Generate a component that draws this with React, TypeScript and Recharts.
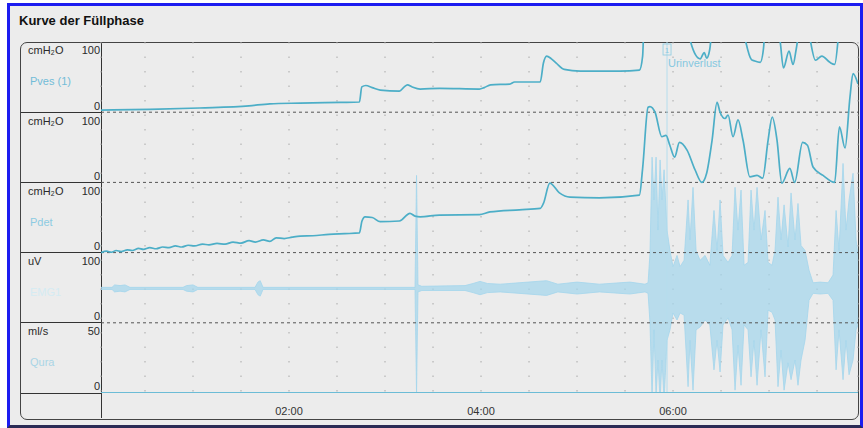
import React from "react";
import { ComposedChart, Line, Area, XAxis, YAxis, CartesianGrid, ReferenceLine } from "recharts";

// time in seconds, values in channel units
const pvesTrace: number[][] = [
  [2.5, 3], [33, 4], [64, 6], [95, 9], [108, 12], [127, 13], [152, 14], [164, 14.5],
  [165.5, 36], [168, 38], [172, 35], [177, 31.5], [189, 30], [192, 36], [194, 39], [197, 36],
  [202, 33], [214, 34], [239, 33], [242, 35], [246, 39], [258, 40], [261, 43], [277, 43],
  [279, 70], [281, 80], [284, 76], [287, 70], [292, 61], [302, 58.5], [314, 58.5], [327, 58.5],
  [339, 60], [341, 80], [342, 130], [368, 130], [371, 100], [374, 82], [377, 76], [379.5, 85],
  [381, 77], [383, 90], [385, 130], [403, 130], [405.5, 100], [409, 75], [411, 73], [414.5, 71],
  [416.5, 90], [418, 130], [425, 130], [427, 100], [429, 63], [432.5, 87], [435, 68], [437, 90],
  [440, 130], [444, 130], [446, 100], [449, 74], [453, 80], [458, 71], [461, 68], [463, 100],
  [464, 130], [476, 130],
];

const pdetTrace: number[][] = [
  [2.5, 0], [6, 2], [9, 0.5], [12, 3], [15, 1.5], [19, 4], [22, 3], [26, 6], [29, 4.5], [33, 7],
  [37, 5.5], [41, 8], [45, 7], [49, 9.5], [53, 8], [57, 10.5], [61, 9.5], [66, 12], [70, 11],
  [75, 13], [80, 12], [85, 15], [90, 13.5], [95, 17], [99, 15], [104, 18], [108, 16], [112, 21],
  [117, 20], [122, 22], [127, 23.5], [135, 24], [145, 26], [155, 27], [164, 28], [165.6, 45],
  [167.5, 51], [172, 50], [177, 44], [189, 45], [195.6, 56], [198.75, 52], [202, 51], [214, 53.5],
  [239, 54], [245.6, 58], [264, 61], [277, 63], [279, 70], [283, 99], [289, 85], [295.6, 79],
  [314, 78], [339, 82], [341, 120], [344.4, 207], [345.6, 208], [348.75, 200], [353, 165],
  [355.6, 167], [358, 153], [361, 136], [364, 157], [368.75, 146], [373.75, 118], [378, 100],
  [381, 113], [384.4, 160], [387.5, 214], [389.4, 200], [392.5, 191], [394.4, 196], [397.5, 165],
  [400.6, 189], [403.75, 160], [408, 108], [412.5, 110], [416, 106], [419.4, 160], [422, 193],
  [425, 160], [428, 99], [433, 120], [436, 100], [441, 157], [444, 153], [447.5, 122],
  [453.75, 110], [461, 100], [464, 179], [467.5, 149], [470.6, 222], [472.5, 255], [475.6, 240],
];

// EMG envelope: [time, low, high]
const emgEnvelope: number[][] = [
  [2.5, 47.5, 50.5], [9.4, 47.5, 50.5], [11, 44, 54], [14.4, 45, 53], [17.5, 44, 54], [20.6, 47.5, 50.5],
  [53.75, 47.5, 50.5], [56, 45, 53], [60, 44, 54], [63, 47.5, 50.5],
  [98.75, 47.5, 50.5], [100.6, 40, 58], [102, 38, 60], [103.75, 47.5, 50.5],
  [198.75, 47.5, 50.5], [199.7, -100, 210], [200.6, 44, 54], [203, 46, 52], [230, 46, 53],
  [235, 43, 56], [239.4, 40, 59], [244, 43, 56], [252, 44, 55], [281, 39, 60], [288, 44, 55],
  [300, 41, 58], [314, 44, 55], [333, 41, 58], [342.5, 44, 55],
  [344.4, 42, 57], [345.6, 0, 99], [346.9, -106, 236], [348.1, -10, 175], [349.4, -103, 236],
  [350.6, -53, 132], [351.9, -110, 232], [353.1, -53, 175], [354.4, -110, 218], [356.25, -25, 132],
  [358.1, -10, 103], [360, 14, 80], [362.5, 4, 96], [364.4, 14, 80], [366.9, 11, 89],
  [369.4, -91, 175], [370.6, -25, 118], [372.5, -96, 193], [374.4, -10, 103], [376.9, -6, 89],
  [380, 4, 96], [383, -3, 82], [385.6, -67, 160], [387.5, -25, 103], [389.4, -70, 175],
  [391.25, -3, 96], [394.4, 7, 86], [396.9, -10, 96], [398.75, -96, 193], [400.6, -32, 132],
  [402.5, -89, 189], [404.4, -3, 82], [406.9, -10, 86], [408.75, -77, 189], [410.6, -25, 132],
  [412.5, -89, 193], [415, -10, 118], [417.5, -77, 160], [419.4, 18, 86], [421.9, 15, 82],
  [423.75, 4, 103], [425.6, -91, 179], [427.5, -39, 118], [429.4, -96, 168], [431.9, -57, 108],
  [433.75, -81, 185], [436.25, -53, 118], [438.1, -89, 170], [440, -53, 110], [442.5, -25, 103],
  [445, 32, 75], [447.5, 42, 57], [451.9, 41, 58], [456.9, 42, 57], [460, 32, 68],
  [461.9, -67, 160], [463.75, -10, 103], [466.25, -81, 227], [468.1, -25, 132], [470, -74, 175],
  [472.5, -53, 213], [474.4, -10, 118], [475.6, -3, 96],
];

const quraTrace: number[][] = [[2.5, 0], [475.6, 0]];

const gridSeconds = [30, 60, 90, 120, 150, 180, 210, 240, 270, 300, 330, 360, 390, 420, 450];
const labelSeconds = [120, 240, 360];
const eventTime = 356.25;
const eventName = "Urinverlust";

const rowUnits = ["cmH₂O", "cmH₂O", "cmH₂O", "uV", "ml/s"];
const rowMax = ["100", "100", "100", "100", "50"];
const rowNames = ["Pves (1)", "", "Pdet", "EMG1", "Qura"];
const rowNameColors = ["#72bcd8", "#72bcd8", "#8ccbe2", "#d4ebf3", "#a9d5e6"];

const TEAL = "#4caec7";
const EMG = "#a3d6ec";
const ROW_TOP = [42, 112.5, 182.5, 252.5, 322.5, 393];

const fmt = (t: number) => `${String(Math.floor(t / 60)).padStart(2, "0")}:00`;

function EventLabel(props: any) {
  const vb = props.viewBox || {};
  const x = vb.x;
  const y = vb.y;
  return (
    <g>
      <rect x={x - 4} y={y + 2} width={8} height={11} fill="none" stroke="#8ccbe2" strokeWidth={0.8} />
      <text x={x} y={y + 11} fontSize={8} fill="#8ccbe2" textAnchor="middle">1</text>
      <text x={x + 1} y={y + 25} fontSize={11} fill="#86c8e0">{eventName}</text>
    </g>
  );
}

export default function App() {
  const pves = pvesTrace.map(([t, v]) => ({ t, v }));
  const pdet = pdetTrace.map(([t, v]) => ({ t, v }));
  const emg = emgEnvelope.map(([t, lo, hi]) => ({ t, r: [lo, hi] }));
  const qura = quraTrace.map(([t, v]) => ({ t, v }));

  const text: React.CSSProperties = { position: "absolute", fontSize: 11, lineHeight: "12px", color: "#2a2a2a" };

  return (
    <div style={{ position: "absolute", left: 0, top: 0, width: 863, height: 428, background: "#fff", fontFamily: "'Liberation Sans', Arial, sans-serif", overflow: "hidden" }}>
      <div style={{ position: "absolute", left: 7, top: 3, width: 850, height: 419, borderLeft: "3px solid #1c1cf0", borderTop: "3px solid #1c1cf0", borderRight: "3px solid #1c1cf0", borderBottom: "3px solid #2b2b55", background: "#ececec" }} />
      <div style={{ position: "absolute", left: 19, top: 13, fontSize: 13, fontWeight: "bold", color: "#111" }}>Kurve der Füllphase</div>
      <div style={{ position: "absolute", left: 20, top: 41.5, width: 837, height: 376, border: "1px solid #444", borderRadius: 7 }} />
      <div style={{ position: "absolute", left: 101, top: 42, width: 1, height: 376, background: "#333" }} />
      {ROW_TOP.slice(1).map((y, i) => (
        <div key={i} style={{ position: "absolute", left: 21, top: y - 0.5, width: 80, height: 1, background: "#333" }} />
      ))}
      {rowUnits.map((u, i) => (
        <React.Fragment key={i}>
          <div style={{ ...text, left: 28, top: ROW_TOP[i] + 2 }}>{u}</div>
          <div style={{ ...text, left: 70, width: 30, textAlign: "right", top: ROW_TOP[i] + 2 }}>{rowMax[i]}</div>
          <div style={{ ...text, left: 70, width: 30, textAlign: "right", top: ROW_TOP[i + 1] - 13 }}>0</div>
          {rowNames[i] && <div style={{ ...text, left: 30, top: ROW_TOP[i] + 33, color: rowNameColors[i] }}>{rowNames[i]}</div>}
        </React.Fragment>
      ))}
      <div style={{ position: "absolute", left: 0, top: 0 }}>
        <ComposedChart width={863} height={428} margin={{ top: 42, right: 5, left: 101, bottom: 10 }}>
          <CartesianGrid horizontal={false} stroke="#a8a8a8" strokeDasharray="1.5 13" />
          <XAxis
            dataKey="t"
            type="number"
            domain={[2.5, 475.6]}
            allowDataOverflow
            ticks={gridSeconds}
            tickFormatter={(v) => (labelSeconds.includes(Number(v)) ? fmt(Number(v)) : "")}
            axisLine={false}
            tickLine={false}
            tickMargin={8}
            height={25}
            tick={{ fontSize: 11, fill: "#333" }}
          />
          <YAxis yAxisId="pves" hide domain={[-400, 100]} allowDataOverflow />
          <YAxis yAxisId="pabd" hide domain={[-300, 200]} allowDataOverflow />
          <YAxis yAxisId="pdet" hide domain={[-200, 300]} allowDataOverflow />
          <YAxis yAxisId="emg" hide domain={[-100, 400]} allowDataOverflow />
          <YAxis yAxisId="qura" hide domain={[0, 250]} allowDataOverflow />
          <ReferenceLine yAxisId="pves" y={0} stroke="#555" strokeDasharray="3 3" />
          <ReferenceLine yAxisId="pabd" y={0} stroke="#555" strokeDasharray="3 3" />
          <ReferenceLine yAxisId="pdet" y={0} stroke="#555" strokeDasharray="3 3" />
          <ReferenceLine yAxisId="emg" y={0} stroke="#555" strokeDasharray="3 3" />
          <ReferenceLine yAxisId="pves" x={eventTime} stroke="#b5dded" strokeWidth={1} label={<EventLabel />} />
          <Area yAxisId="emg" data={emg} dataKey="r" type="linear" stroke={EMG} strokeWidth={0.8} fill={EMG} fillOpacity={0.72} isAnimationActive={false} dot={false} activeDot={false} />
          <Line yAxisId="qura" data={qura} dataKey="v" type="linear" stroke="#6cbcd6" strokeWidth={2} dot={false} isAnimationActive={false} />
          <Line yAxisId="pves" data={pves} dataKey="v" type="monotone" stroke={TEAL} strokeWidth={1.7} dot={false} isAnimationActive={false} />
          <Line yAxisId="pdet" data={pdet} dataKey="v" type="monotone" stroke={TEAL} strokeWidth={1.7} dot={false} isAnimationActive={false} />
        </ComposedChart>
      </div>
    </div>
  );
}
